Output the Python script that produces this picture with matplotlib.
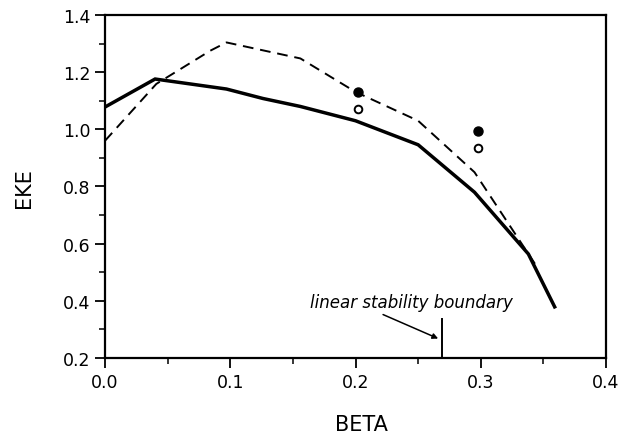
import matplotlib
matplotlib.use("Agg")
import matplotlib.pyplot as plt
from matplotlib.ticker import MultipleLocator

# data
solid_beta = [0.0, 0.040, 0.097, 0.126, 0.156, 0.20, 0.25, 0.295, 0.338, 0.359]
solid_eke = [1.078, 1.176, 1.141, 1.108, 1.080, 1.030, 0.946, 0.780, 0.564, 0.379]
dashed_beta = [0.0, 0.041, 0.084, 0.097, 0.156, 0.20, 0.25, 0.295, 0.345]
dashed_eke = [0.960, 1.159, 1.275, 1.304, 1.248, 1.131, 1.030, 0.850, 0.518]
filled_beta = [0.202, 0.298]
filled_eke = [1.131, 0.993]
open_beta = [0.202, 0.298]
open_eke = [1.071, 0.935]
boundary_beta = 0.269
boundary_top = 0.338
xticks = [0.0, 0.1, 0.2, 0.3, 0.4]
xticklabels = ["0.0", "0.1", "0.2", "0.3", "0.4"]
yticks = [0.2, 0.4, 0.6, 0.8, 1.0, 1.2, 1.4]
yticklabels = ["0.2", "0.4", "0.6", "0.8", "1.0", "1.2", "1.4"]

plt.rcParams['font.family'] = ['DejaVu Sans']
fig = plt.figure(figsize=(6.32, 4.35), dpi=100)
ax = fig.add_axes([105/632, 1-359/435, (606-105)/632, (359-16)/435])

ax.plot(solid_beta, solid_eke, color='black', lw=2.5, solid_joinstyle='miter')
ax.plot(dashed_beta, dashed_eke, color='black', lw=1.4, dashes=(5.5, 3.5))
ax.plot(filled_beta, filled_eke, 'o', color='black', ms=6.5, ls='none')
ax.plot(open_beta, open_eke, 'o', mfc='white', mec='black', mew=1.4, ms=5.5, ls='none')
ax.plot([boundary_beta, boundary_beta], [0.2, boundary_top], color='black', lw=1.4)

ax.annotate("", xy=(0.266, 0.268), xytext=(0.222, 0.352),
            arrowprops=dict(arrowstyle='-|>', color='black', lw=1.1,
                            mutation_scale=8, shrinkA=0, shrinkB=0))
ax.text(0.164, 0.378, "linear stability boundary", style='italic',
        fontsize=12, ha='left', va='baseline')

ax.set_xlim(0.0, 0.4)
ax.set_ylim(0.2, 1.4)
ax.set_xticks(xticks)
ax.set_xticklabels(xticklabels)
ax.set_yticks(yticks)
ax.set_yticklabels(yticklabels)
ax.xaxis.set_minor_locator(MultipleLocator(0.05))
ax.yaxis.set_minor_locator(MultipleLocator(0.1))
ax.tick_params(which='major', direction='out', length=7, width=1.3, labelsize=12.5, pad=3.5)
ax.tick_params(which='minor', direction='out', length=4.3, width=1.1)
ax.tick_params(top=False, right=False, which='both')
for s in ax.spines.values():
    s.set_linewidth(1.6)

fig.text(24.5/632, 1-188/435, "EKE", rotation=90, fontsize=15, ha='center', va='center')
fig.text(361/632, 1-425/435, "BETA", fontsize=15, ha='center', va='center')

fig.savefig("out.png", dpi=100)
